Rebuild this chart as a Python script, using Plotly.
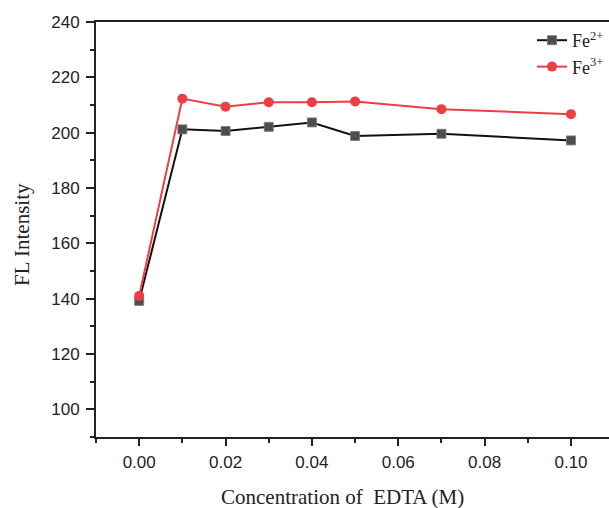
import plotly.graph_objects as go

conc = [0.00, 0.01, 0.02, 0.03, 0.04, 0.05, 0.07, 0.10]
fe2 = [139.2, 201.2, 200.6, 202.1, 203.7, 198.8, 199.6, 197.2]
fe3 = [141.0, 212.3, 209.4, 211.0, 211.0, 211.3, 208.5, 206.7]

x_ticks = [0.00, 0.02, 0.04, 0.06, 0.08, 0.10]
x_ticklabels = ["0.00", "0.02", "0.04", "0.06", "0.08", "0.10"]
y_ticks = [100, 120, 140, 160, 180, 200, 220, 240]

fig = go.Figure()
fig.add_trace(go.Scatter(
    x=conc, y=fe2, mode="lines+markers", name="Fe<sup>2+</sup>",
    line=dict(color="#111111", width=2),
    marker=dict(symbol="square", size=9, color="#4d4d50",
                line=dict(color="#777777", width=0.8)),
))
fig.add_trace(go.Scatter(
    x=conc, y=fe3, mode="lines+markers", name="Fe<sup>3+</sup>",
    line=dict(color="#ee3e45", width=2),
    marker=dict(symbol="circle", size=10, color="#ee3e45"),
))

fig.update_layout(
    width=609, height=508,
    margin=dict(l=96, r=0, t=22, b=71, autoexpand=False),
    paper_bgcolor="white", plot_bgcolor="white",
    showlegend=True,
    legend=dict(x=1.0, y=1.0, xanchor="right", yanchor="top",
                bgcolor="rgba(0,0,0,0)",
                font=dict(family="Liberation Serif", size=18, color="#222"),
                itemwidth=30, tracegroupgap=0),
    font=dict(family="Liberation Sans", color="#222"),
    annotations=[
        dict(text="Concentration of  EDTA (M)", xref="paper", yref="paper",
             x=(342 - 96) / 513, y=-(497 - 437) / 415, xanchor="center",
             yanchor="middle", showarrow=False,
             font=dict(family="Liberation Serif", size=21, color="#222")),
        dict(text="FL Intensity", xref="paper", yref="paper",
             x=-(96 - 22) / 513, y=(437 - 235) / 415, xanchor="center",
             yanchor="middle", showarrow=False, textangle=-90,
             font=dict(family="Liberation Serif", size=21, color="#222")),
    ],
)
fig.update_xaxes(
    range=[-0.01, 0.1088], tickvals=x_ticks, ticktext=x_ticklabels,
    ticks="outside", ticklen=7, tickwidth=1.5, tickcolor="#222",
    showline=True, linecolor="#222", linewidth=2, mirror=True,
    showgrid=False, zeroline=False, ticklabelstandoff=2,
    tickfont=dict(family="Liberation Sans", size=17, color="#222"),
    minor=dict(ticks="outside", ticklen=4, tickwidth=1.5, tickcolor="#222",
               dtick=0.01, tick0=0, showgrid=False),
)
fig.update_yaxes(
    range=[90, 240], tickvals=y_ticks,
    ticks="outside", ticklen=8, tickwidth=1.5, tickcolor="#222",
    showline=True, linecolor="#222", linewidth=2, mirror=False,
    showgrid=False, zeroline=False, ticklabelstandoff=3,
    tickfont=dict(family="Liberation Sans", size=17, color="#222"),
    minor=dict(ticks="outside", ticklen=4, tickwidth=1.5, tickcolor="#222",
               dtick=10, tick0=0, showgrid=False),
)

fig.write_html("out.html")
